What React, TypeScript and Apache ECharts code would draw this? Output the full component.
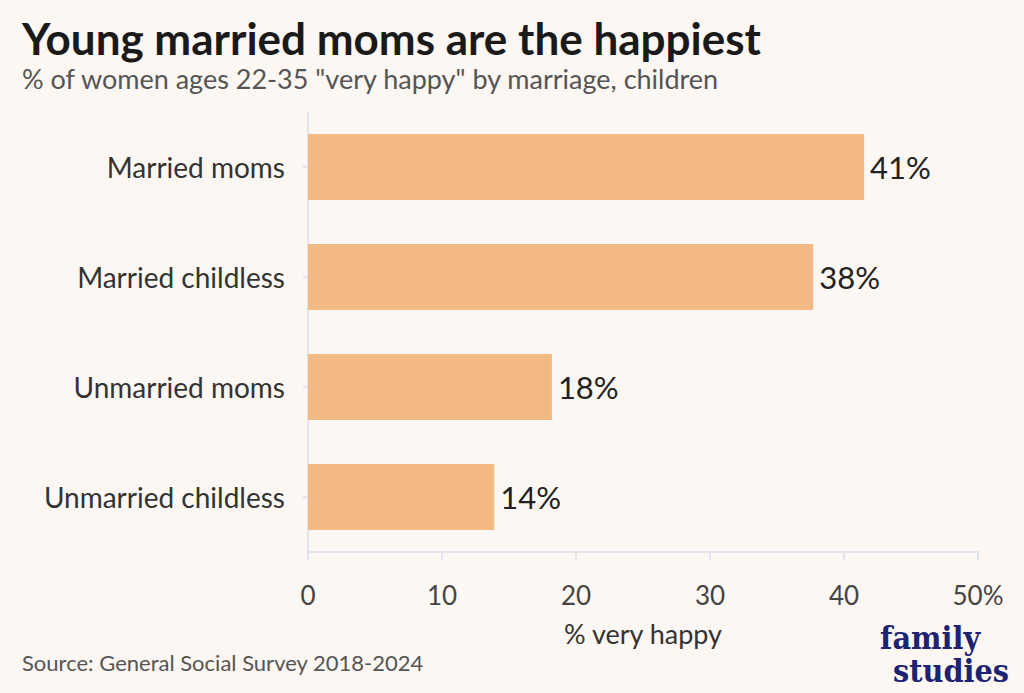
import { useEffect, useRef } from 'react'
import * as echarts from 'echarts'

const categories = ['Married moms', 'Married childless', 'Unmarried moms', 'Unmarried childless']
const values = [41.5, 37.7, 18.2, 13.9]
const valueLabels = ['41%', '38%', '18%', '14%']
const tickLabels = ['0', '10', '20', '30', '40', '50%']

const FONT = 'Lato, "Noto Sans", sans-serif'
const LOGO_FONT = '"DejaVu Serif Condensed", "DejaVu Serif", serif'

const App = () => {
  const chartRef = useRef<HTMLDivElement>(null)

  useEffect(() => {
    document.body.style.margin = '0'
    document.body.style.background = '#FCF7F2'
    if (!chartRef.current) return
    const chart = echarts.init(chartRef.current, null, { renderer: 'svg' })

    const option = {
      animation: false,
      backgroundColor: '#FCF7F2',
      textStyle: { fontFamily: FONT },
      grid: { left: 308, right: 46, top: 112, bottom: 141 },
      xAxis: {
        type: 'value',
        min: 0,
        max: 50,
        interval: 10,
        name: '% very happy',
        nameLocation: 'middle',
        nameGap: 68,
        nameTextStyle: { fontSize: 27, color: '#333', fontFamily: FONT },
        axisLine: { show: true, lineStyle: { color: '#E2E4EC', width: 2 } },
        axisTick: { show: true, length: 8, lineStyle: { color: '#E2E4EC', width: 2 } },
        splitLine: { show: false },
        axisLabel: {
          margin: 30,
          fontSize: 26,
          color: '#444',
          fontFamily: FONT,
          formatter: (v: number) => tickLabels[Math.round(v / 10)] ?? String(v)
        }
      },
      yAxis: {
        type: 'category',
        inverse: true,
        data: categories,
        axisLine: { show: true, lineStyle: { color: '#E2E4EC', width: 2 } },
        axisTick: { show: true, alignWithLabel: true, length: 5, lineStyle: { color: '#E2E4EC', width: 2 } },
        axisLabel: { margin: 23, fontSize: 28, color: '#333', fontFamily: FONT }
      },
      series: [
        {
          type: 'bar',
          data: values,
          barWidth: '60%',
          itemStyle: { color: '#F3B984' },
          label: {
            show: true,
            position: 'right',
            distance: 6,
            fontSize: 31,
            color: '#222',
            fontFamily: FONT,
            formatter: (p: { dataIndex: number }) => valueLabels[p.dataIndex]
          }
        }
      ],
      graphic: [
        {
          type: 'text',
          left: 22,
          top: 16,
          style: { text: 'Young married moms are the happiest', fontSize: 44, lineHeight: 40, fontWeight: 'bold', fill: '#1a1a1a', fontFamily: FONT }
        },
        {
          type: 'text',
          left: 22,
          top: 65,
          style: { text: '% of women ages 22-35 "very happy" by marriage, children', fontSize: 27, lineHeight: 25, fill: '#555', fontFamily: FONT }
        },
        {
          type: 'text',
          left: 22,
          top: 651,
          style: { text: 'Source: General Social Survey 2018-2024', fontSize: 22, fill: '#555', fontFamily: FONT }
        },
        {
          type: 'text',
          left: 880,
          top: 622,
          style: { text: 'family', fontSize: 32, lineHeight: 24, fontWeight: 'bold', fill: '#1E2272', fontFamily: LOGO_FONT }
        },
        {
          type: 'text',
          left: 893,
          top: 655,
          style: { text: 'studies', fontSize: 32, lineHeight: 24, fontWeight: 'bold', fill: '#1E2272', fontFamily: LOGO_FONT }
        }
      ]
    }

    chart.setOption(option)
    return () => chart.dispose()
  }, [])

  return <div ref={chartRef} style={{ width: 1024, height: 693 }} />
}

export default App
